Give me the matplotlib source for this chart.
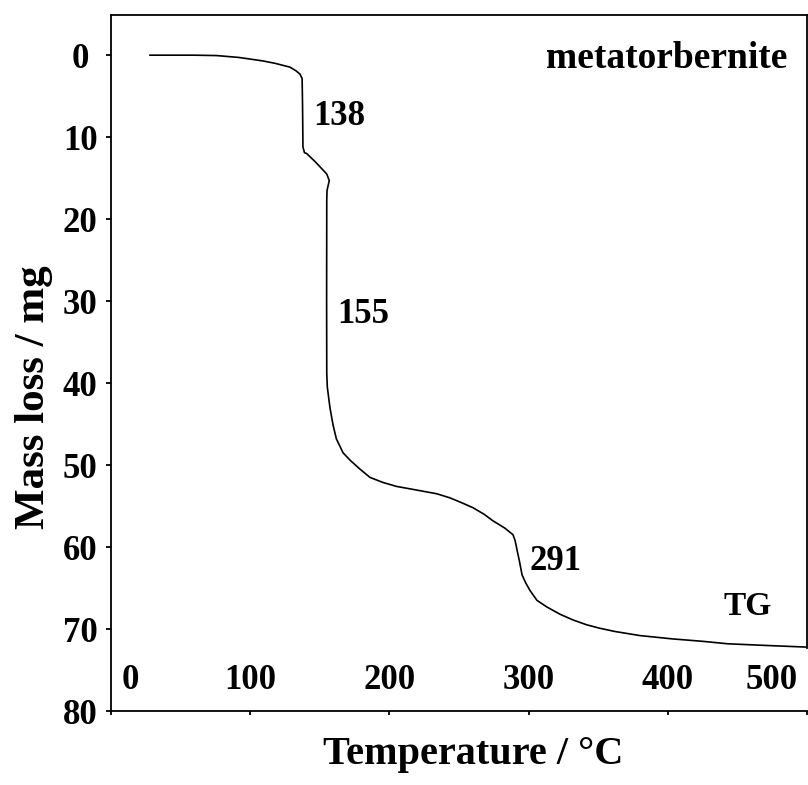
import matplotlib
matplotlib.use("Agg")
import matplotlib.pyplot as plt
import matplotlib.transforms as mtransforms

# TG curve
temperature = [28, 60, 76, 92, 109, 118, 123, 128.6, 133, 135.8, 137.3, 137.6,
               137.9, 139, 140.6, 147.3, 155.0, 156.8, 155.2, 155.0, 154.9, 155.0,
               155.4, 157.3, 159.5, 161.9, 166.7, 171.7, 178.9, 186, 195, 205, 218,
               234, 243.5, 252, 260, 268, 274.4, 283, 288.8, 290.3, 291.5, 293.5,
               295.3, 298, 301, 306, 313, 322.6, 332, 342, 351, 362, 380, 403, 425,
               443, 470, 499]
mass_loss = [0, 0, 0.05, 0.28, 0.70, 1.0, 1.22, 1.46, 1.92, 2.32, 2.85, 6.0,
             11.2, 11.9, 12.0, 13.1, 14.5, 15.3, 16.5, 17.7, 30, 38.8,
             40.5, 43.0, 45.1, 46.8, 48.5, 49.4, 50.5, 51.5, 52.1, 52.6, 53.0,
             53.5, 54.0, 54.6, 55.2, 56.0, 56.8, 57.7, 58.5, 59.2, 60.2, 61.8,
             63.4, 64.4, 65.3, 66.5, 67.3, 68.2, 68.9, 69.5, 69.9, 70.3, 70.8, 71.2, 71.5,
             71.8, 72.0, 72.2]

x_ticks = [0, 100, 200, 300, 400, 500]
y_ticks = [0, 10, 20, 30, 40, 50, 60, 70, 80]

peaks = ["138", "155", "291"]
peak_pos = [(145.1, 8.5), (162.4, 32.7), (301, 62.8)]

plt.rcParams["font.family"] = ["Liberation Serif", "DejaVu Serif"]
plt.rcParams["font.weight"] = "bold"

fig = plt.figure(figsize=(8.08, 7.85), dpi=100)
ax = fig.add_axes([111 / 808, 1 - 711 / 785, 696 / 808, 696 / 785])

ax.plot(temperature, mass_loss, color="black", lw=1.2)

ax.set_xlim(0, 500)
ax.set_ylim(80, -4.9)

ax.set_yticks(y_ticks)
ax.set_yticklabels([str(v) for v in y_ticks], fontsize=25, fontweight="bold")
ax.tick_params(axis="y", direction="out", length=3.6, width=1.3, pad=18.5)
for lab in ax.get_yticklabels():
    lab.set_horizontalalignment("center")

ax.set_xticks(x_ticks)
ax.set_xticklabels([str(v) for v in x_ticks], fontsize=25, fontweight="bold")
ax.tick_params(axis="x", direction="out", length=3, width=1.3, pad=-37)
xlabs = ax.get_xticklabels()
xlabs[0].set_transform(xlabs[0].get_transform() +
                       mtransforms.ScaledTranslation(19 / 100, 0, fig.dpi_scale_trans))
xlabs[-1].set_transform(xlabs[-1].get_transform() +
                        mtransforms.ScaledTranslation(-35 / 100, 0, fig.dpi_scale_trans))

for s in ax.spines.values():
    s.set_linewidth(1.3)
ax.spines["right"].set_bounds(-4.9, 72.3)

ax.set_xlabel("Temperature / °C", fontsize=29, fontweight="bold")
ax.xaxis.set_label_coords(0.52, -0.036)
ax.set_ylabel("Mass loss / mg", fontsize=31, fontweight="bold")
ax.yaxis.set_label_coords(-0.083, 0.451)

for txt, (tx, ty) in zip(peaks, peak_pos):
    ax.text(tx, ty, txt, fontsize=25, fontweight="bold", ha="left", va="baseline")
ax.text(457.6, 68.3, "TG", fontsize=24, fontweight="bold", ha="center", va="baseline")
ax.text(485.6, 1.6, "metatorbernite", fontsize=27, fontweight="bold",
        ha="right", va="baseline")

fig.savefig("out.png", dpi=100)
